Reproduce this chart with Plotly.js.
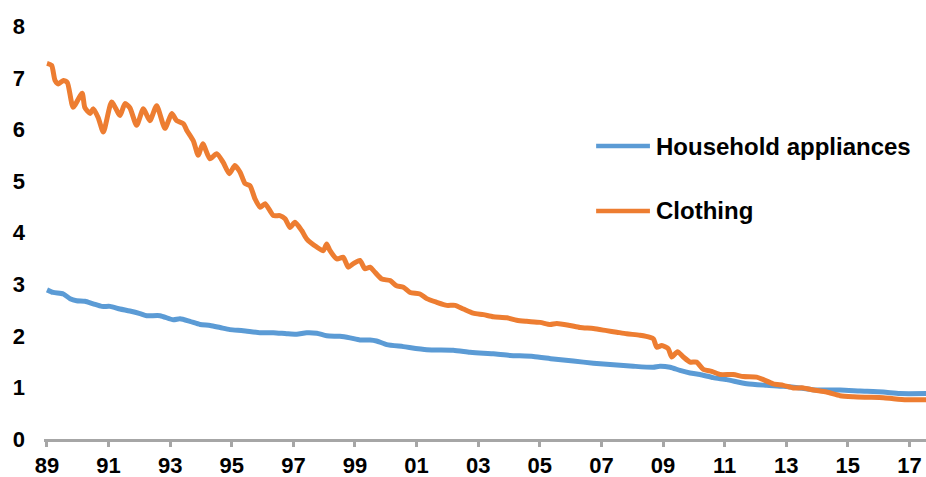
<!DOCTYPE html>
<html>
<head>
<meta charset="utf-8">
<script src="https://cdn.plot.ly/plotly-3.0.1.min.js"></script>
<style>
html,body{margin:0;padding:0;background:#fff;}
#chart{width:926px;height:477px;}
</style>
</head>
<body>
<div id="chart"></div>
<script>
// Series names
var seriesNames = ["Household appliances", "Clothing"];

// Household appliances (year, value)
var applianceYears = [1989.0,1989.20,1989.53,1989.75,1989.96,1990.23,1990.50,1990.78,1991.05,1991.37,1991.69,1992.02,1992.24,1992.67,1993.10,1993.32,1993.64,1993.97,1994.30,1994.62,1994.94,1995.37,1995.92,1996.35,1996.78,1997.11,1997.43,1997.76,1998.08,1998.51,1998.84,1999.16,1999.49,1999.70,2000.03,2000.57,2001.33,2002.19,2002.73,2003.17,2003.49,2004.03,2004.79,2005.44,2006.09,2006.74,2007.39,2008.04,2008.68,2008.90,2009.23,2009.55,2009.88,2010.20,2010.63,2011.07,2011.72,2012.37,2012.91,2013.45,2013.99,2014.75,2015.40,2016.15,2016.69,2017.55];
var applianceValues = [2.89,2.84,2.81,2.72,2.68,2.67,2.62,2.57,2.57,2.52,2.48,2.43,2.39,2.39,2.31,2.33,2.28,2.22,2.20,2.16,2.12,2.10,2.06,2.06,2.04,2.03,2.06,2.05,2.00,1.99,1.96,1.92,1.92,1.90,1.83,1.79,1.73,1.72,1.68,1.66,1.65,1.62,1.60,1.55,1.51,1.47,1.44,1.41,1.39,1.41,1.39,1.33,1.28,1.25,1.19,1.15,1.07,1.04,1.02,0.99,0.95,0.95,0.93,0.91,0.88,0.88];

// Clothing (year, value)
var clothingYears = [1989.0,1989.15,1989.26,1989.37,1989.53,1989.66,1989.85,1990.14,1990.23,1990.40,1990.50,1990.66,1990.83,1991.10,1991.37,1991.53,1991.69,1991.91,1992.13,1992.34,1992.56,1992.83,1993.05,1993.21,1993.43,1993.54,1993.75,1993.91,1994.06,1994.29,1994.51,1994.72,1994.92,1995.10,1995.27,1995.43,1995.59,1995.75,1995.92,1996.08,1996.35,1996.56,1996.73,1996.89,1997.05,1997.27,1997.43,1997.76,1997.97,1998.08,1998.19,1998.41,1998.62,1998.78,1998.95,1999.16,1999.32,1999.49,1999.65,1999.87,2000.14,2000.35,2000.57,2000.79,2001.11,2001.33,2001.65,2001.98,2002.25,2002.52,2002.84,2003.17,2003.49,2003.93,2004.25,2004.57,2005.01,2005.33,2005.55,2005.98,2006.31,2006.74,2007.17,2007.50,2007.82,2008.25,2008.58,2008.69,2008.80,2008.96,2009.17,2009.28,2009.47,2009.66,2009.88,2010.09,2010.31,2010.58,2010.85,2011.28,2011.61,2012.04,2012.26,2012.58,2012.91,2013.23,2013.56,2013.88,2014.31,2014.75,2015.18,2015.61,2016.15,2016.48,2016.91,2017.55];
var clothingValues = [7.28,7.24,6.95,6.88,6.95,6.91,6.43,6.70,6.42,6.31,6.40,6.23,5.95,6.53,6.27,6.50,6.42,6.08,6.40,6.17,6.46,6.02,6.31,6.17,6.11,5.98,5.78,5.50,5.72,5.43,5.53,5.36,5.14,5.30,5.17,4.95,4.91,4.66,4.49,4.56,4.33,4.33,4.27,4.10,4.20,4.04,3.88,3.72,3.65,3.78,3.65,3.49,3.52,3.33,3.40,3.46,3.30,3.33,3.23,3.10,3.07,2.97,2.94,2.84,2.81,2.72,2.65,2.59,2.59,2.52,2.44,2.41,2.37,2.35,2.30,2.28,2.26,2.22,2.24,2.20,2.16,2.14,2.10,2.07,2.04,2.01,1.97,1.94,1.78,1.81,1.75,1.59,1.69,1.59,1.49,1.49,1.35,1.31,1.25,1.25,1.21,1.20,1.15,1.07,1.04,0.99,0.99,0.95,0.91,0.84,0.82,0.81,0.80,0.78,0.76,0.76];

// Axis ticks
var xTickVals = [1989,1991,1993,1995,1997,1999,2001,2003,2005,2007,2009,2011,2013,2015,2017];
var xTickText = ["89","91","93","95","97","99","01","03","05","07","09","11","13","15","17"];
var yTickVals = [0,1,2,3,4,5,6,7,8];

var colors = ["#5B9BD5", "#ED7D31"];
var FONT = "Liberation Sans, Arial, sans-serif";

var traces = [
  {x: applianceYears, y: applianceValues, name: seriesNames[0], type: "scatter", mode: "lines",
   line: {color: colors[0], width: 5, shape: "spline", smoothing: 0.6}, showlegend: false},
  {x: clothingYears, y: clothingValues, name: seriesNames[1], type: "scatter", mode: "lines",
   line: {color: colors[1], width: 5, shape: "spline", smoothing: 0.6}, showlegend: false}
];

// Legend drawn as shapes + annotations (paper coordinates)
var legendY = [0.691, 0.538];
var shapes = [], annotations = [];
for (var i = 0; i < seriesNames.length; i++) {
  shapes.push({type: "line", xref: "paper", yref: "paper", x0: 0.626, x1: 0.687,
    y0: legendY[i], y1: legendY[i], line: {color: colors[i], width: 4.5}});
  annotations.push({xref: "paper", yref: "paper", x: 0.692, y: legendY[i], xanchor: "left", yanchor: "middle",
    text: "<b>" + seriesNames[i] + "</b>", showarrow: false,
    font: {family: FONT, size: 24, color: "#000"}});
}

var layout = {
  width: 926, height: 477,
  margin: {l: 44, r: 0, t: 15, b: 38, pad: 0},
  paper_bgcolor: "#fff", plot_bgcolor: "#fff",
  showlegend: false,
  xaxis: {range: [1988.903, 2017.539], tickvals: xTickVals, ticktext: xTickText,
    showgrid: false, zeroline: false, showline: true, linecolor: "#A6A6A6", linewidth: 3,
    ticks: "outside", ticklen: 5, tickwidth: 3, tickcolor: "#A6A6A6",
    tickfont: {family: FONT, size: 22, color: "#000", weight: "bold"}},
  yaxis: {range: [0, 8.217], tickvals: yTickVals, showgrid: false, zeroline: false, showline: false,
    ticks: "", ticklabelstandoff: 18,
    tickfont: {family: FONT, size: 22, color: "#000", weight: "bold"}},
  shapes: shapes,
  annotations: annotations
};

Plotly.newPlot("chart", traces, layout, {displayModeBar: false, staticPlot: true});
</script>
</body>
</html>
